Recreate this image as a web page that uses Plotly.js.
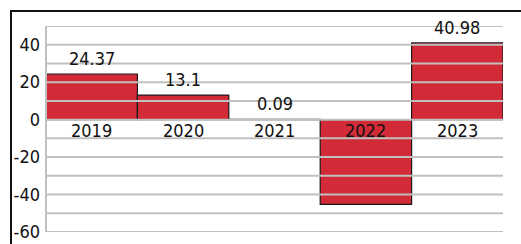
<!DOCTYPE html>
<html>
<head>
<meta charset="utf-8">
<script src="https://cdn.plot.ly/plotly-3.0.1.min.js"></script>
<style>
  html, body { margin: 0; padding: 0; background: #fff; }
  #wrap { position: relative; width: 521px; height: 244px; overflow: hidden; }
  #chart { position: absolute; left: 0; top: 0; width: 521px; height: 244px; }
  #frame { position: absolute; left: 10px; top: 10px; width: 600px; height: 400px;
           border-left: 2px solid #111; border-top: 2px solid #111; pointer-events: none; }
</style>
</head>
<body>
<div id="wrap">
  <div id="chart"></div>
  <div id="frame"></div>
</div>
<script>
const categories = ['2019', '2020', '2021', '2022', '2023'];
const values = [24.37, 13.1, 0.09, -45.2, 40.98];
const valueLabels = ['24.37', '13.1', '0.09', '', '40.98'];
const tickValues = [-60, -40, -20, 0, 20, 40];
const tickLabels = ['-60', '-40', '-20', '0', '20', '40'];
const gridValues = [-60, -50, -40, -30, -20, -10, 0, 10, 20, 30, 40, 50];

const FONT = '"DejaVu Sans Condensed", "Liberation Sans", Arial, sans-serif';
const idx = categories.map((c, i) => i);

const trace = {
  type: 'bar',
  x: idx,
  y: values,
  width: 1,
  marker: { color: '#D22B37', line: { color: '#1a1a1a', width: 1.2 } },
  hoverinfo: 'none'
};

const shapes = gridValues.map(v => ({
  type: 'line', xref: 'paper', yref: 'y', x0: 0, x1: 1, y0: v, y1: v,
  line: { color: '#c0c0c0', width: 2 }, layer: 'above'
}));
shapes.push({
  type: 'line', xref: 'paper', yref: 'paper', x0: 0, x1: 0, y0: 0, y1: 1,
  line: { color: '#c0c0c0', width: 2 }, layer: 'above'
});

const annotations = [];
categories.forEach((c, i) => {
  if (valueLabels[i] !== '') {
    annotations.push({
      x: i, y: Math.max(values[i], 0), xref: 'x', yref: 'y',
      text: valueLabels[i], showarrow: false, yanchor: 'bottom', yshift: 3,
      font: { family: FONT, size: 18, color: '#111' }
    });
  }
  annotations.push({
    x: i, y: 0, xref: 'x', yref: 'y',
    text: c, showarrow: false, yanchor: 'top', yshift: 2,
    font: { family: FONT, size: 18, color: '#111' }
  });
});

const layout = {
  width: 521, height: 244,
  margin: { l: 46, r: 18, t: 26, b: 12, pad: 0 },
  paper_bgcolor: '#fff', plot_bgcolor: '#fff',
  showlegend: false,
  bargap: 0,
  xaxis: { type: 'linear', range: [-0.5, categories.length - 0.5], showticklabels: false, showgrid: false, zeroline: false, showline: false, ticks: '' },
  yaxis: {
    range: [-60, 50], tickmode: 'array', tickvals: tickValues, ticktext: tickLabels,
    showgrid: false, zeroline: false, showline: false, ticks: '',
    ticklabelstandoff: 5,
    tickfont: { family: FONT, size: 18, color: '#111' }
  },
  shapes: shapes,
  annotations: annotations,
  font: { family: FONT }
};

Plotly.newPlot('chart', [trace], layout, { staticPlot: true, displayModeBar: false });
</script>
</body>
</html>
